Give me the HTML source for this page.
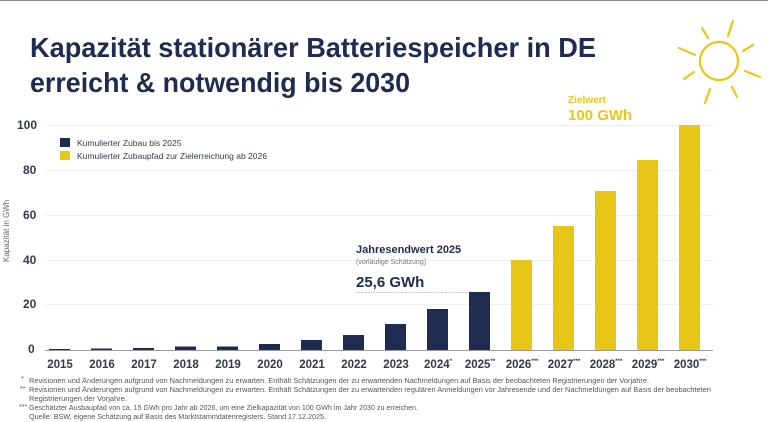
<!DOCTYPE html>
<html><head><meta charset="utf-8"><style>
html,body{margin:0;padding:0;background:#fff;}
svg{display:block;font-family:"Liberation Sans",sans-serif;}
</style></head><body>
<svg width="768" height="422" viewBox="0 0 768 422" xmlns="http://www.w3.org/2000/svg">
<rect x="0" y="0" width="768" height="1" fill="#8a8a90"/>
<g fill="#1f2b50" font-weight="bold" font-size="28">
<text x="30" y="57" textLength="566" lengthAdjust="spacingAndGlyphs">Kapazität stationärer Batteriespeicher in DE</text>
<text x="30" y="92" textLength="380" lengthAdjust="spacingAndGlyphs">erreicht &amp; notwendig bis 2030</text>
</g>
<g stroke="#e8c617" stroke-width="2.2" fill="none" stroke-linecap="round">
<circle cx="719" cy="61" r="19"/>
<line x1="679" y1="48" x2="695" y2="55"/>
<line x1="702" y1="28" x2="708" y2="38"/>
<line x1="733" y1="21" x2="728" y2="36"/>
<line x1="743" y1="51" x2="753" y2="45"/>
<line x1="745" y1="71" x2="760" y2="77"/>
<line x1="732" y1="87" x2="737" y2="97"/>
<line x1="710" y1="89" x2="705" y2="103"/>
<line x1="694" y1="72" x2="684" y2="79"/>
</g>
<g stroke="#f0f0f2" stroke-width="1">
<line x1="45" y1="125.5" x2="713" y2="125.5"/>
<line x1="45" y1="170.5" x2="713" y2="170.5"/>
<line x1="45" y1="215.5" x2="713" y2="215.5"/>
<line x1="45" y1="260.5" x2="713" y2="260.5"/>
<line x1="45" y1="304.5" x2="713" y2="304.5"/>
</g>
<g fill="#333a4a" font-weight="bold" font-size="12">
<text x="17" y="129">100</text>
<text x="23" y="174">80</text>
<text x="23" y="219">60</text>
<text x="23" y="264">40</text>
<text x="23" y="308">20</text>
<text x="28" y="353">0</text>
</g>
<text transform="translate(9,262) rotate(-90)" font-size="8" fill="#666">Kapazität in GWh</text>
<rect x="60" y="138" width="10" height="9" fill="#1f2b50"/>
<rect x="60" y="151" width="10" height="9" fill="#e8c617"/>
<g font-size="8.5" fill="#333a4a">
<text x="77" y="146">Kumulierter Zubau bis 2025</text>
<text x="77" y="159">Kumulierter Zubaupfad zur Zielerreichung ab 2026</text>
</g>
<g fill="#1f2b50">
<rect x="49" y="349" width="21" height="1"/>
<rect x="91" y="348.5" width="21" height="1.5"/>
<rect x="133" y="348" width="21" height="2"/>
<rect x="175" y="346.5" width="21" height="3.5"/>
<rect x="217" y="346.5" width="21" height="3.5"/>
<rect x="259" y="344" width="21" height="6"/>
<rect x="301" y="340" width="21" height="10"/>
<rect x="343" y="335" width="21" height="15"/>
<rect x="385" y="324" width="21" height="26"/>
<rect x="427" y="309" width="21" height="41"/>
<rect x="469" y="292" width="21" height="58"/>
</g>
<g fill="#e8c617">
<rect x="511" y="260" width="21" height="90"/>
<rect x="553" y="226" width="21" height="124"/>
<rect x="595" y="191" width="21" height="159"/>
<rect x="637" y="160" width="21" height="190"/>
<rect x="679" y="125" width="21" height="225"/>
</g>
<rect x="45" y="350" width="668" height="1" fill="#9a9aa2"/>
<g fill="#333a4a" font-weight="bold" font-size="11.5" text-anchor="middle">
<text x="60" y="368">2015</text><text x="102" y="368">2016</text><text x="144" y="368">2017</text>
<text x="186" y="368">2018</text><text x="228" y="368">2019</text><text x="270" y="368">2020</text>
<text x="312" y="368">2021</text><text x="354" y="368">2022</text><text x="396" y="368">2023</text>
<text x="438" y="368">2024<tspan font-size="6" dy="-5">*</tspan></text>
<text x="480" y="368">2025<tspan font-size="6" dy="-5">**</tspan></text>
<text x="522" y="368">2026<tspan font-size="6" dy="-5">***</tspan></text>
<text x="564" y="368">2027<tspan font-size="6" dy="-5">***</tspan></text>
<text x="606" y="368">2028<tspan font-size="6" dy="-5">***</tspan></text>
<text x="648" y="368">2029<tspan font-size="6" dy="-5">***</tspan></text>
<text x="690" y="368">2030<tspan font-size="6" dy="-5">***</tspan></text>
</g>
<text x="356" y="253" font-size="11" font-weight="bold" fill="#1f2b50">Jahresendwert 2025</text>
<text x="356" y="264" font-size="7" fill="#777">(vorläufige Schätzung)</text>
<text x="356" y="287" font-size="15" font-weight="bold" fill="#1f2b50">25,6 GWh</text>
<line x1="356" y1="292.5" x2="468" y2="292.5" stroke="#aaa" stroke-width="1" stroke-dasharray="1,1.5"/>
<text x="568" y="103" font-size="10" font-weight="bold" fill="#e8c617">Zielwert</text>
<text x="568" y="120" font-size="15" font-weight="bold" fill="#e8c617">100 GWh</text>
<g font-size="7" fill="#555" lengthAdjust="spacingAndGlyphs">
<text x="21" y="381">*</text>
<text x="29" y="383" textLength="620" lengthAdjust="spacingAndGlyphs">Revisionen und Änderungen aufgrund von Nachmeldungen zu erwarten. Enthält Schätzungen der zu erwartenden Nachmeldungen auf Basis der beobachteten Registrierungen der Vorjahre.</text>
<text x="20" y="391">**</text>
<text x="29" y="392" textLength="682" lengthAdjust="spacingAndGlyphs">Revisionen und Änderungen aufgrund von Nachmeldungen zu erwarten. Enthält Schätzungen der zu erwartenden regulären Anmeldungen vor Jahresende und der Nachmeldungen auf Basis der beobachteten</text>
<text x="29" y="401" textLength="98" lengthAdjust="spacingAndGlyphs">Registrierungen der Vorjahre.</text>
<text x="19" y="409">***</text>
<text x="29" y="410" textLength="389" lengthAdjust="spacingAndGlyphs">Geschätzter Ausbaupfad von ca. 15 GWh pro Jahr ab 2026, um eine Zielkapazität von 100 GWh im Jahr 2030 zu erreichen.</text>
<text x="29" y="419" textLength="297" lengthAdjust="spacingAndGlyphs">Quelle: BSW, eigene Schätzung auf Basis des Marktstammdatenregisters. Stand 17.12.2025.</text>
</g>
</svg>
</body></html>
